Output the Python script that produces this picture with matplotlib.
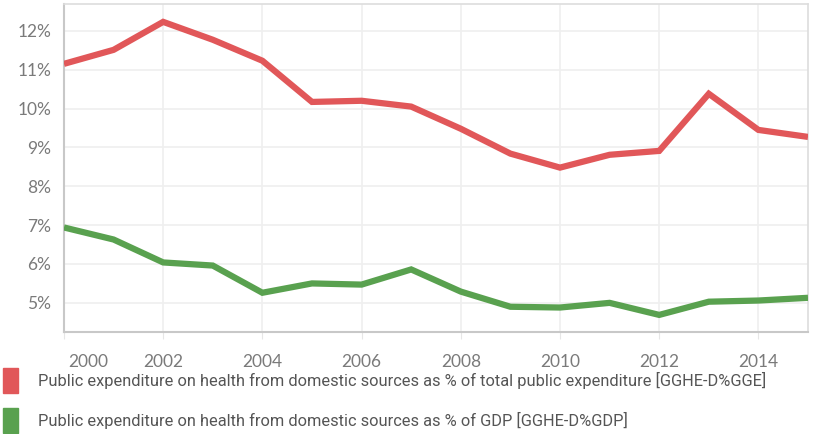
import matplotlib
matplotlib.use('Agg')
import matplotlib.pyplot as plt
from matplotlib.patches import Rectangle
from matplotlib.ticker import FuncFormatter
from matplotlib.transforms import ScaledTranslation

years = list(range(2000, 2016))
gge = [11.15, 11.51, 12.23, 11.77, 11.23, 10.17, 10.20, 10.05, 9.48, 8.84, 8.48, 8.81, 8.91, 10.38, 9.45, 9.27]
gdp = [6.94, 6.63, 6.04, 5.96, 5.26, 5.50, 5.47, 5.86, 5.29, 4.90, 4.88, 5.00, 4.69, 5.03, 5.06, 5.13]
labels = ['Public expenditure on health from domestic sources as % of total public expenditure [GGHE-D%GGE]',
          'Public expenditure on health from domestic sources as % of GDP [GGHE-D%GDP]']
colors = ['#e15759', '#59a14f']

plt.rcParams['font.family'] = ['Lato', 'DejaVu Sans']

fig = plt.figure(figsize=(8.17, 4.34), dpi=100)
ax = fig.add_axes([0.0783, 0.235, 0.9107, 0.7558])

ax.plot(years, gge, color=colors[0], lw=4.5, solid_capstyle='butt', solid_joinstyle='miter', zorder=3)
ax.plot(years, gdp, color=colors[1], lw=4.5, solid_capstyle='butt', solid_joinstyle='miter', zorder=3)

ax.set_xlim(2000, 2015)
ax.set_ylim(4.25, 12.69)
ax.set_xticks(range(2000, 2016, 2))
ax.set_yticks(range(5, 13))
ax.yaxis.set_major_formatter(FuncFormatter(lambda v, p: '%d%%' % v))

ax.grid(True, color='#efefef', lw=1.2, zorder=0)
ax.tick_params(axis='y', length=0, labelsize=12.5, labelcolor='#7a7a7a', pad=9)
ax.tick_params(axis='x', length=5, color='#e6e6e6', labelsize=12.5, labelcolor='#7a7a7a', pad=11)

# first year label is pushed right so it is not clipped
first = ax.get_xticklabels()[0]
first.set_ha('left')
first.set_transform(first.get_transform() + ScaledTranslation(4 / 100, 0, fig.dpi_scale_trans))

for s in ['left', 'bottom']:
    ax.spines[s].set_color('#c8c8c8')
    ax.spines[s].set_linewidth(1.5)
for s in ['top', 'right']:
    ax.spines[s].set_color('#dddddd')
    ax.spines[s].set_linewidth(1.2)

# legend below the plot
for i, (lab, c) in enumerate(zip(labels, colors)):
    y0 = 1 - (393 + i * 40) / 434
    fig.add_artist(Rectangle((3 / 817, y0), 15 / 817, 25 / 434, transform=fig.transFigure, color=c))
    fig.text(38 / 817, y0 + 12.5 / 434, lab, fontsize=11.8, color='#555555', va='center', ha='left',
             family=['Roboto', 'DejaVu Sans'])

fig.savefig('out.png', dpi=100)
